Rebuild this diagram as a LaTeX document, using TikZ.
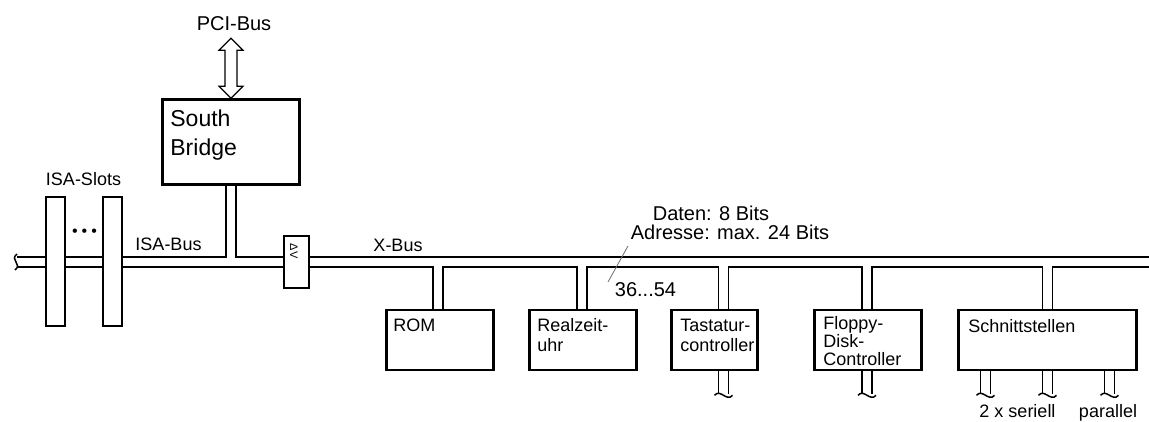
\documentclass[tikz,border=0pt]{standalone}
\usepackage{fontspec}
\setmainfont{Liberation Sans}
\definecolor{leaderGray}{RGB}{110,110,110}

\begin{document}
\begin{tikzpicture}[x=1pt, y=-1pt,
    bus/.style={line width=1.5pt},
    unit/.style={draw, line width=2.6pt, fill=white, inner sep=0pt, minimum height=60},
    unittext/.style={anchor=north west, align=left, inner sep=0pt, font=\fontsize{18}{20}\selectfont},
    slot/.style={draw, line width=2pt, fill=white, inner sep=0pt, minimum width=19, minimum height=129},
    lbl/.style={anchor=base, inner sep=0pt, font=\fontsize{18}{20}\selectfont}]
  \useasboundingbox (0,0) rectangle (1149,422);

  \node[unit, minimum width=137, minimum height=85] (sb) at (231,142) {};
  \node[unittext, font=\fontsize{23}{29}\selectfont] (sbtxt) at ([shift={(9,11)}]sb.north west) {South\\Bridge};
  \node[lbl, font=\fontsize{20}{24}\selectfont] (pci) at (234,31) {PCI-Bus};
  \draw[line width=1.2pt] (sb.north) -- ++(-12,-12) -- ++(6,0) -- ++(0,-36) -- ++(-6,0) -- ++(12,-12)
    -- ++(12,12) -- ++(-6,0) -- ++(0,36) -- ++(6,0) -- cycle;

  \node[unit, minimum width=107] (rom) at (440,340) {};
  \node[unit, minimum width=107] (rtc) at (583,340) {};
  \node[unit, minimum width=86] (tast) at (714.5,340) {};
  \node[unit, minimum width=107] (fdc) at (868,340) {};
  \node[unit, minimum width=178] (sch) at (1047.5,340) {};
  \node[unittext] (romtxt) at ([shift={(8,10)}]rom.north west) {ROM};
  \node[unittext] (rtctxt) at ([shift={(9,10)}]rtc.north west) {Realzeit-\\uhr};
  \node[unittext] (tasttxt) at ([shift={(10,10)}]tast.north west) {Tastatur-\\controller};
  \node[unittext, font=\fontsize{18}{18}\selectfont] (fdctxt) at ([shift={(10,8)}]fdc.north west) {Floppy-\\Disk-\\Controller};
  \node[unittext] (schtxt) at ([shift={(11,11)}]sch.north west) {Schnittstellen};

  \foreach \n/\d in {rom/-2,rtc/-1,tast/9,fdc/-1,sch/0} {
    \coordinate (\n-l) at ([xshift=\d-5]\n.north);
    \coordinate (\n-r) at ([xshift=\d+5]\n.north);
  }
  \coordinate (wt) at (17,257);
  \coordinate (wb) at (17,267);
  \coordinate (et) at (1149,257);
  \coordinate (eb) at (1149,267);

  \draw[bus] (wt) -| ([xshift=-5]sb.south);
  \draw[bus] ([xshift=5]sb.south) |- (et);
  \draw[bus] (wb) -| (rom-l);
  \foreach \p/\q in {rom/rtc,rtc/tast,tast/fdc,fdc/sch}
    \draw[bus] (\p-r) |- (wb -| \q-l) -- (\q-l);
  \draw[bus] (sch-r) |- (eb);
  \draw[bus] ([shift={(0,-3)}]wt) .. controls +(-8,6) and +(8,-6) .. ([shift={(-2,3)}]wb);

  \foreach \n/\d in {tast/9,fdc/-1,sch/-62,sch/0,sch/62} {
    \draw[bus] ([xshift=\d-5]\n.south) -- ++(0,23) ([xshift=\d+5]\n.south) -- ++(0,23);
    \draw[bus] ([shift={(\d-9,24)}]\n.south) .. controls +(6,-7) and +(-6,7) .. ([shift={(\d+9,24)}]\n.south);
  }

  \node[slot] (slot1) at (55.5,261.5) {};
  \node[slot] (slot2) at (112.5,261.5) {};
  \node[lbl, font=\fontsize{16}{16}\selectfont] (dots) at (84.5,237) {\textbullet\hspace{4pt}\textbullet\hspace{4pt}\textbullet};
  \node[lbl] (isaslots) at (83.5,186) {ISA-Slots};
  \node[lbl] (isabus) at (168.5,251) {ISA-Bus};
  \node[draw, line width=2pt, fill=white, inner sep=0pt, minimum width=25, minimum height=52] (dv) at (296.5,262) {};
  \node[inner sep=0pt, rotate=-90, font=\fontsize{11}{11}\selectfont] (dvtxt) at (294,251) {ΔV};
  \node[lbl] (xbus) at (398,252) {X-Bus};

  \node[lbl, font=\fontsize{20}{24}\selectfont] (daten) at (711,221) {Daten: 8 Bits};
  \node[lbl, font=\fontsize{20}{24}\selectfont] (adr) at (730,240) {Adresse: max. 24 Bits};
  \node[lbl, font=\fontsize{20}{24}\selectfont] (range) at (645.5,296) {36...54};
  \coordinate (lead1) at (628,246);
  \coordinate (lead2) at (608,282);
  \draw[leaderGray, line width=0.8pt] (lead1) -- (lead2);

  \node[lbl] (seriell) at (1017.5,417) {2 x seriell};
  \node[lbl] (parallel) at (1108,417) {parallel};
\end{tikzpicture}
\end{document}
